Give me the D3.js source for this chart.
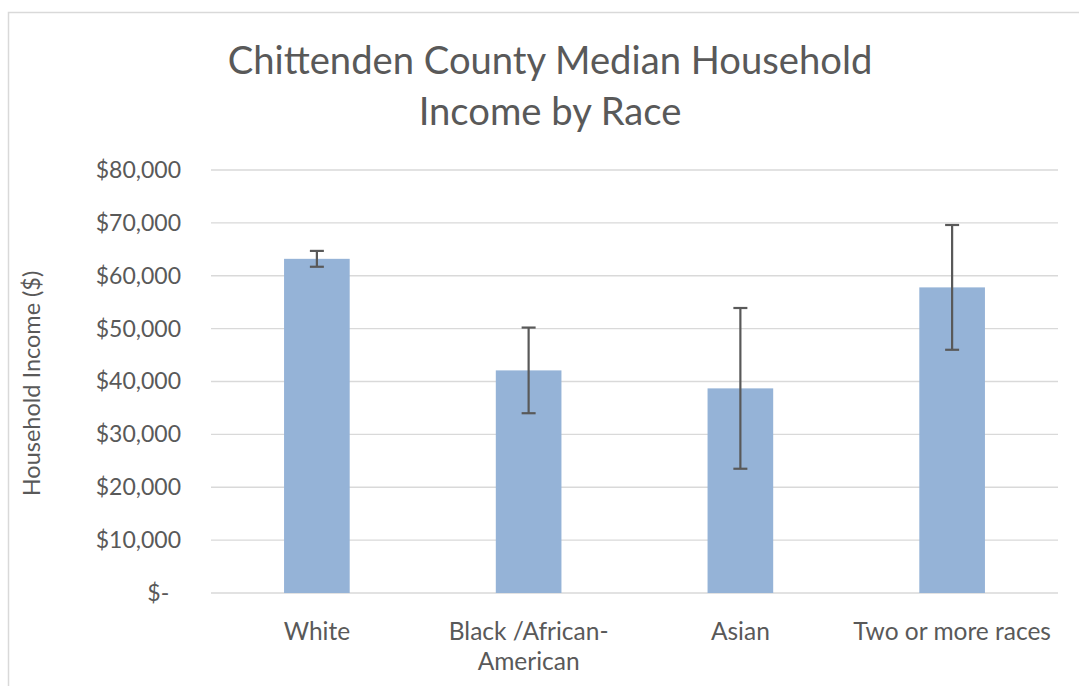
<!DOCTYPE html>
<html>
<head>
<meta charset="utf-8">
<script src="https://cdn.jsdelivr.net/npm/d3@7"></script>
<style>
  html, body { margin: 0; padding: 0; background: #fff; }
  svg { display: block; }
  text { font-family: Lato, "Open Sans", sans-serif; fill: #595959; }
</style>
</head>
<body>
<svg id="chart" width="1079" height="686"></svg>
<script>
// Median household income by race, Chittenden County, with margins of error
const categories = ["White", "Black /African-American", "Asian", "Two or more races"];
const incomes = [63200, 42100, 38700, 57800];
const marginsOfError = [1500, 8100, 15200, 11800];
const yTicks = [0, 10000, 20000, 30000, 40000, 50000, 60000, 70000, 80000];
const titleLines = ["Chittenden County Median Household", "Income by Race"];
const yAxisTitle = "Household Income ($)";

const W = 1079, H = 686;
const plot = { left: 211, right: 1058, top: 170, bottom: 593 };

const svg = d3.select("#chart");

// chart area frame
svg.append("rect")
  .attr("x", 8.5).attr("y", 12.5)
  .attr("width", W + 20).attr("height", H + 20)
  .attr("fill", "#fff")
  .attr("stroke", "#D9D9D9").attr("stroke-width", 1.5);

const x = d3.scaleBand()
  .domain(categories)
  .range([plot.left, plot.right])
  .padding(0);

const y = d3.scaleLinear()
  .domain([0, 80000])
  .range([plot.bottom, plot.top]);

const barWidth = x.bandwidth() * 0.31;

// horizontal gridlines
svg.append("g")
  .selectAll("line")
  .data(yTicks)
  .join("line")
  .attr("x1", plot.left).attr("x2", plot.right)
  .attr("y1", d => y(d)).attr("y2", d => y(d))
  .attr("stroke", "#D9D9D9").attr("stroke-width", 1.3);

// y axis labels
const yAxis = d3.axisLeft(y)
  .tickValues(yTicks)
  .tickSize(0)
  .tickPadding(0)
  .tickFormat(d => d === 0 ? "$-\u00a0\u00a0" : d3.format("$,")(d));

const yAxisG = svg.append("g")
  .attr("transform", `translate(${plot.left - 30},0)`)
  .call(yAxis);
yAxisG.select(".domain").remove();
yAxisG.selectAll("text")
  .attr("font-size", 23)
  .attr("fill", "#595959")
  .attr("font-family", "Lato, 'Open Sans', sans-serif");

// bars
svg.append("g")
  .selectAll("rect")
  .data(categories)
  .join("rect")
  .attr("x", d => x(d) + (x.bandwidth() - barWidth) / 2)
  .attr("width", barWidth)
  .attr("y", (d, i) => y(incomes[i]))
  .attr("height", (d, i) => y(0) - y(incomes[i]))
  .attr("fill", "#95B3D7");

// error bars
const capHalf = 7;
const err = svg.append("g")
  .attr("stroke", "#595959")
  .attr("stroke-width", 2.2);
categories.forEach((c, i) => {
  const cx = x(c) + x.bandwidth() / 2;
  const hi = y(incomes[i] + marginsOfError[i]);
  const lo = y(incomes[i] - marginsOfError[i]);
  err.append("line").attr("x1", cx).attr("x2", cx).attr("y1", hi).attr("y2", lo);
  err.append("line").attr("x1", cx - capHalf).attr("x2", cx + capHalf).attr("y1", hi).attr("y2", hi);
  err.append("line").attr("x1", cx - capHalf).attr("x2", cx + capHalf).attr("y1", lo).attr("y2", lo);
});

// category labels, wrapped to the band width
const xAxis = d3.axisBottom(x).tickSize(0).tickPadding(0);
const xAxisG = svg.append("g")
  .attr("transform", `translate(0,${plot.bottom + 47})`)
  .call(xAxis);
xAxisG.select(".domain").remove();
xAxisG.selectAll("text")
  .attr("font-size", 24.5)
  .attr("fill", "#595959")
  .attr("dy", 0)
  .attr("font-family", "Lato, 'Open Sans', sans-serif")
  .each(function(d) {
    const t = d3.select(this);
    const maxW = x.bandwidth() * 0.97;
    const words = d.split(/(?<=-)|\s+(?=\S)/);
    const lines = [];
    let cur = "";
    t.text(null);
    const probe = t.append("tspan");
    words.forEach(w => {
      const joiner = cur === "" ? "" : (cur.endsWith("-") ? "" : " ");
      const test = cur + joiner + w;
      probe.text(test);
      if (probe.node().getComputedTextLength() > maxW && cur !== "") {
        lines.push(cur);
        cur = w;
      } else {
        cur = test;
      }
    });
    lines.push(cur);
    probe.remove();
    lines.forEach((ln, k) => {
      t.append("tspan").attr("x", 0).attr("dy", k === 0 ? 0 : 30).text(ln);
    });
  });

// y axis title
svg.append("text")
  .attr("transform", `translate(40,${(plot.top + plot.bottom) / 2 + 2}) rotate(-90)`)
  .attr("text-anchor", "middle")
  .attr("font-size", 23.5)
  .text(yAxisTitle);

// chart title
svg.append("text")
  .attr("text-anchor", "middle")
  .attr("font-size", 38.2)
  .selectAll("tspan")
  .data(titleLines)
  .join("tspan")
  .attr("x", 550)
  .attr("y", (d, i) => 74 + i * 51)
  .text(d => d);
</script>
</body>
</html>
